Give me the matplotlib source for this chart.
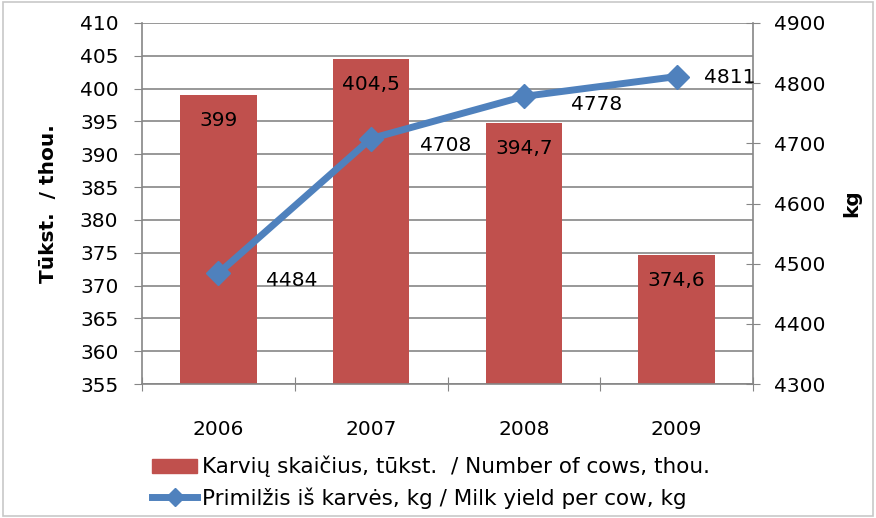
import matplotlib.pyplot as plt
from matplotlib.patches import Rectangle

plt.rcParams['font.family'] = ['DejaVu Sans']

years = ['2006', '2007', '2008', '2009']
cows = [399, 404.5, 394.7, 374.6]
cow_labels = ['399', '404,5', '394,7', '374,6']
milk = [4484, 4708, 4778, 4811]
milk_labels = ['4484', '4708', '4778', '4811']

bar_color = '#C0504D'
line_color = '#4F81BD'
grid_color = '#868686'
fs = 14.5

fig = plt.figure(figsize=(8.76, 5.18), dpi=100)
ax = fig.add_axes([142 / 876, 1 - 384 / 518, (753 - 142) / 876, (384 - 23) / 518])
fig.patches.append(Rectangle((0.003, 0.003), 0.994, 0.994, transform=fig.transFigure,
                             fill=False, edgecolor='#C8C8C8', linewidth=1.2))

x = list(range(len(years)))
ax.bar(x, cows, width=0.5, color=bar_color, zorder=2)
ax.set_ylim(355, 410)
ax.set_yticks(range(355, 411, 5))
ax.set_xlim(-0.5, 3.5)
ax.set_xticks([-0.5, 0.5, 1.5, 2.5, 3.5])
ax.set_xticklabels([])
ax.set_xticks(x, minor=True)
ax.set_xticklabels(years, minor=True)
ax.tick_params(axis='x', which='minor', length=0, pad=26, labelsize=fs)
ax.tick_params(axis='x', which='major', length=10, direction='inout', color=grid_color)
ax.tick_params(axis='y', length=6, direction='out', color=grid_color, labelsize=fs, pad=11)
ax.grid(axis='y', color=grid_color, linewidth=1.2, zorder=0)
for s in ['top', 'right']:
    ax.spines[s].set_visible(False)
for s in ['left', 'bottom']:
    ax.spines[s].set_color(grid_color)
    ax.spines[s].set_linewidth(1.2)
ax.set_ylabel('Tūkst.  / thou.', fontsize=fs, fontweight='bold', labelpad=16)

for i, v in enumerate(cows):
    ax.text(i, v - 2.4, cow_labels[i], ha='center', va='top', fontsize=fs, zorder=5)

ax2 = ax.twinx()
ax2.plot(x, milk, color=line_color, linewidth=5, marker='D', markersize=12, zorder=4)
ax2.set_ylim(4300, 4900)
ax2.set_yticks(range(4300, 4901, 100))
ax2.tick_params(axis='y', length=10, direction='inout', color=grid_color, labelsize=fs, pad=10)
for s in ['top', 'left', 'bottom']:
    ax2.spines[s].set_visible(False)
ax2.spines['right'].set_color(grid_color)
ax2.spines['right'].set_linewidth(1.2)
ax2.set_ylabel('kg', fontsize=fs, fontweight='bold', labelpad=12)

# label offsets in points (last one squeezed in front of the axis)
offsets = [(34, -5), (35, -5), (34, -6), (20, -1)]
for i, v in enumerate(milk):
    ax2.annotate(milk_labels[i], (i, v), xytext=offsets[i], textcoords='offset points',
                 ha='left', va='center', fontsize=fs, zorder=6)

h1 = Rectangle((0, 0), 1, 1, color=bar_color)
h2, = ax2.plot([], [], color=line_color, linewidth=5, marker='D', markersize=9)
fig.legend([h1, h2], ['Karvių skaičius, tūkst.  / Number of cows, thou.',
                      'Primilžis iš karvės, kg / Milk yield per cow, kg'],
           loc='center', bbox_to_anchor=(0.492, 0.069), frameon=False, fontsize=15.5,
           handlelength=2.1, handleheight=0.6, handletextpad=0.2, labelspacing=0.45)

fig.savefig('out.png', dpi=100)
